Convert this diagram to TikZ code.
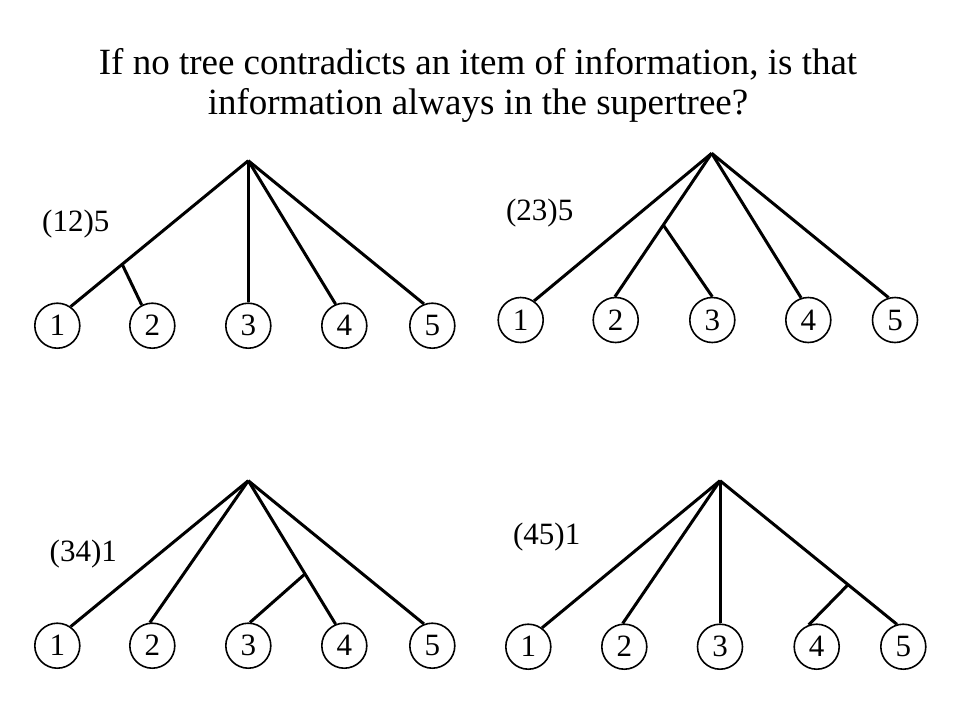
\documentclass[tikz,border=0pt]{standalone}
\usepackage{fontspec}
\setmainfont{Liberation Serif}
\usetikzlibrary{calc}
\begin{document}
\begin{tikzpicture}[x=1pt,y=-1pt,
  leaf/.style={circle,draw,line width=1.6pt,minimum size=45pt,inner sep=0pt,font=\fontsize{31}{36}\selectfont},
  edge/.style={line width=3pt},
  lbl/.style={inner sep=0pt,font=\fontsize{31}{36}\selectfont},
  ttl/.style={inner sep=0pt,align=center,font=\fontsize{37}{40}\selectfont}]
\useasboundingbox[fill=white] (0,0) rectangle (960,720);
\node[ttl] (title) at (478,85) {If no tree contradicts an item of information, is that\\information always in the supertree?};
% tree A: (12)5
\coordinate (ra) at (248.3,160.7);
\foreach \i/\x in {1/57.3,2/152.3,3/248.3,4/344.3,5/432.3}
  \node[leaf] (a\i) at (\x,325.7) {\i};
\coordinate (ja) at ($(ra)!0.71!(a1.55)$);
\draw[edge] (ra) -- (a1.55);
\draw[edge] (ja) -- (a2.117);
\draw[edge] (ra) -- (a3.90);
\draw[edge] (ra) -- (a4.112);
\draw[edge] (ra) -- (a5.111);
\node[lbl] (la) at (75.8,224) {(12)5};
% tree B: (23)5
\coordinate (rb) at (711.7,153.3);
\foreach \i/\x in {1/520.7,2/615.7,3/712.3,4/808.3,5/895}
  \node[leaf] (b\i) at (\x,320) {\i};
\coordinate (jb) at ($(rb)!0.5!(b2.92)$);
\draw[edge] (rb) -- (b1.55);
\draw[edge] (rb) -- (b2.92);
\draw[edge] (jb) -- (b3.90);
\draw[edge] (rb) -- (b4.108);
\draw[edge] (rb) -- (b5.106);
\node[lbl] (lb) at (539.7,213) {(23)5};
% tree C: (34)1
\coordinate (rc) at (248.3,480.7);
\foreach \i/\x in {1/57.3,2/152.3,3/248.3,4/344.3,5/432.3}
  \node[leaf] (c\i) at (\x,645.7) {\i};
\coordinate (jc) at ($(rc)!0.65!(c4.112)$);
\draw[edge] (rc) -- (c1.55);
\draw[edge] (rc) -- (c2.96);
\draw[edge] (jc) -- (c3.86);
\draw[edge] (rc) -- (c4.112);
\draw[edge] (rc) -- (c5.111);
\node[lbl] (lc) at (83.3,553.7) {(34)1};
% tree D: (45)1
\coordinate (rd) at (720,480.7);
\foreach \i/\x in {1/528.3,2/624.3,3/720,4/816.7,5/903.3}
  \node[leaf] (d\i) at (\x,646.7) {\i};
\coordinate (jd) at ($(rd)!0.724!(d5.106)$);
\draw[edge] (rd) -- (d1.54);
\draw[edge] (rd) -- (d2.94);
\draw[edge] (rd) -- (d3.90);
\draw[edge] (jd) -- (d4.110);
\draw[edge] (rd) -- (d5.106);
\node[lbl] (ld) at (546.7,537.3) {(45)1};
\end{tikzpicture}
\end{document}
